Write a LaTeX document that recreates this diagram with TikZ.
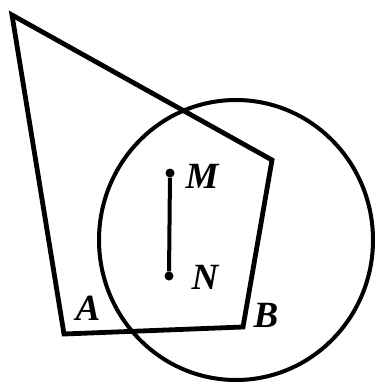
\documentclass[tikz,border=0pt]{standalone}
\usepackage{fontspec}
\setmainfont{Liberation Serif}
\newfontfamily\ptfont{Liberation Serif}
\usepackage{tikz}

\begin{document}
\begin{tikzpicture}[x=1pt, y=-1pt, ptlabel/.style={font=\ptfont\fontsize{37}{37}\selectfont\bfseries\itshape}]
  \useasboundingbox (0,0) rectangle (375,385);

  \coordinate (P) at (12,15);
  \coordinate (A) at (64,334);
  \coordinate (B) at (243,327);
  \coordinate (Q) at (272,160);
  \coordinate (O) at (236,240);

  \draw[line width=4.8pt, line join=miter] (P) -- (A) -- (B) -- (Q) -- cycle;
  \draw[line width=4pt] (O) circle[x radius=137, y radius=140];

  \node[circle, fill, inner sep=0pt, minimum size=9pt] (M) at (170,173) {};
  \node[circle, fill, inner sep=0pt, minimum size=9pt] (N) at (169,276) {};
  \draw[line width=4pt] (M) -- (N);

  \node[ptlabel] (labM) at (202,176) {M};
  \node[ptlabel] (labN) at (205,277) {N};
  \node[ptlabel] (labA) at (88,308) {A};
  \node[ptlabel] (labB) at (266,315) {B};
\end{tikzpicture}
\end{document}
